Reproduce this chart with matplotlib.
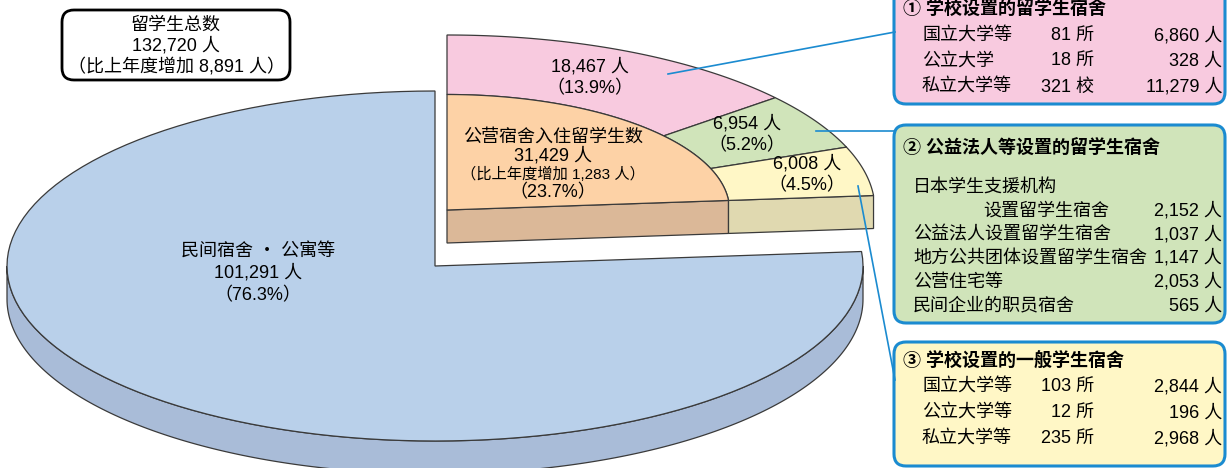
import numpy as np
import matplotlib.pyplot as plt
from matplotlib.patches import Polygon, FancyBboxPatch

plt.rcParams['font.family'] = ['Liberation Sans', 'Noto Sans CJK SC', 'DejaVu Sans']

# data: the two main parts and the three kinds of public dormitory
main_labels = ['民间宿舍 ・ 公寓等', '公营宿舍入住留学生数']
main_values = [101291, 31429]
public_increase = 1283
total_increase = 8891
sub_values = [18467, 6954, 6008]

# detail tables for the three boxes
school_names = ['国立大学等', '公立大学', '私立大学等']
school_counts = [81, 18, 321]
school_units = ['所', '所', '校']
school_people = [6860, 328, 11279]

found_names = ['设置留学生宿舍', '公益法人设置留学生宿舍', '地方公共团体设置留学生宿舍',
               '公营住宅等', '民间企业的职员宿舍']
found_people = [2152, 1037, 1147, 2053, 565]

general_names = ['国立大学等', '公立大学等', '私立大学等']
general_counts = [103, 12, 235]
general_people = [2844, 196, 2968]

# colours
c_blue, c_blue_side = '#b9d0ea', '#a9bcd8'
c_orange, c_orange_side = '#fdd2a6', '#dbb898'
sub_colors = ['#f8cadf', '#d0e4ba', '#fff7c6']
c_yellow_side = '#e0d9b0'
c_edge = '#3a3a3a'
c_line = '#1b8bd0'

# pie geometry (pixel space)
CX, CY = 435, 266
RX, RY = 428, 175
DEPTH = 33
EXPLODE = (12, -56)
R_IN = 0.66

total = sum(main_values)


def ell(theta_deg, r, cx, cy):
    t = np.radians(theta_deg)
    return np.column_stack([cx + r * RX * np.cos(t), cy - r * RY * np.sin(t)])


def sector(t0, t1, r0, r1, cx, cy):
    ts = np.linspace(t0, t1, 120)
    outer = ell(ts, r1, cx, cy)
    if r0 == 0:
        inner = np.array([[cx, cy]])
    else:
        inner = ell(ts[::-1], r0, cx, cy)
    return np.vstack([outer, inner])


fig = plt.figure(figsize=(12.27, 4.68), dpi=100)
ax = fig.add_axes([0, 0, 1, 1])
ax.set_xlim(0, 1227)
ax.set_ylim(468, 0)
ax.axis('off')

start = 90
cut = start - 360 * main_values[1] / total

# big slice: side then top
ts = np.linspace(-180, 0, 200)
top = ell(ts, 1, CX, CY)
side = np.vstack([top, (top + [0, DEPTH])[::-1]])
ax.add_patch(Polygon(side, closed=True, fc=c_blue_side, ec=c_edge, lw=0.9))
ax.add_patch(Polygon(sector(cut, start - 360, 0, 1, CX, CY), closed=True,
                     fc=c_blue, ec=c_edge, lw=0.9))

# exploded slice
wx, wy = CX + EXPLODE[0], CY + EXPLODE[1]
p0 = np.array([wx, wy])
p1 = ell(cut, R_IN, wx, wy)[0]
p2 = ell(cut, 1, wx, wy)[0]
d = np.array([0, DEPTH])
ax.add_patch(Polygon([p0, p1, p1 + d, p0 + d], closed=True, fc=c_orange_side, ec=c_edge, lw=0.9))
ax.add_patch(Polygon([p1, p2, p2 + d, p1 + d], closed=True, fc=c_yellow_side, ec=c_edge, lw=0.9))

span = start - cut
t = start
for v, col in zip(sub_values, sub_colors):
    t_next = t - span * v / main_values[1]
    ax.add_patch(Polygon(sector(t, t_next, R_IN, 1, wx, wy), closed=True,
                         fc=col, ec=c_edge, lw=0.9))
    t = t_next
ax.add_patch(Polygon(sector(start, cut, 0, R_IN, wx, wy), closed=True,
                     fc=c_orange, ec=c_edge, lw=0.9))

# slice labels
fs = 13
pct = [v / total * 100 for v in main_values]
ax.text(258, 251, main_labels[0], ha='center', va='center', fontsize=fs)
ax.text(258, 273, f'{main_values[0]:,} 人', ha='center', va='center', fontsize=fs)
ax.text(258, 296, f'（{pct[0]:.1f}%）', ha='center', va='center', fontsize=fs)

ax.text(553, 137, main_labels[1], ha='center', va='center', fontsize=fs)
ax.text(553, 156, f'{main_values[1]:,} 人', ha='center', va='center', fontsize=fs)
ax.text(553, 174, f'（比上年度增加 {public_increase:,} 人）', ha='center', va='center', fontsize=11)
ax.text(553, 193, f'（{pct[1]:.1f}%）', ha='center', va='center', fontsize=fs)

sub_pos = [(590, 67, 89), (747, 124, 146), (807, 164, 186)]
for v, (x, y1, y2) in zip(sub_values, sub_pos):
    ax.text(x, y1, f'{v:,} 人', ha='center', va='center', fontsize=fs)
    ax.text(x, y2, f'（{v / total * 100:.1f}%）', ha='center', va='center', fontsize=fs)

# total box
ax.add_patch(FancyBboxPatch((62, 10), 228, 70, boxstyle='round,pad=0,rounding_size=12',
                            fc='white', ec='black', lw=2))
ax.text(176, 25, '留学生总数', ha='center', va='center', fontsize=fs)
ax.text(176, 46, f'{total:,} 人', ha='center', va='center', fontsize=fs)
ax.text(176, 67, f'（比上年度增加 {total_increase:,} 人）', ha='center', va='center', fontsize=fs)

# connector lines
ax.plot([668, 895], [74, 32], color=c_line, lw=1.2)
ax.plot([816, 895], [131, 131], color=c_line, lw=1.2)
ax.plot([858, 895], [186, 380], color=c_line, lw=1.2)

# detail boxes
def box(y0, y1, col):
    ax.add_patch(FancyBboxPatch((894, y0), 331, y1 - y0, boxstyle='round,pad=0,rounding_size=12',
                                fc=col, ec=c_line, lw=2.2, clip_on=False))


box(-20, 104, sub_colors[0])
ax.text(903, 10, '① 学校设置的留学生宿舍', ha='left', va='center', fontsize=fs, fontweight='bold')
for i, y in enumerate([36, 61, 87]):
    ax.text(922, y, school_names[i], ha='left', va='center', fontsize=fs)
    ax.text(1094, y, f'{school_counts[i]} {school_units[i]}', ha='right', va='center', fontsize=fs)
    ax.text(1222, y, f'{school_people[i]:,} 人', ha='right', va='center', fontsize=fs)

box(125, 323, sub_colors[1])
ax.text(903, 149, '② 公益法人等设置的留学生宿舍', ha='left', va='center', fontsize=fs, fontweight='bold')
ax.text(913, 187, '日本学生支援机构', ha='left', va='center', fontsize=fs)
for i, y in enumerate([211, 235, 258, 282, 306]):
    x = 983 if i == 0 else 913
    ax.text(x, y, found_names[i], ha='left', va='center', fontsize=fs)
    ax.text(1222, y, f'{found_people[i]:,} 人', ha='right', va='center', fontsize=fs)

box(342, 466, sub_colors[2])
ax.text(903, 362, '③ 学校设置的一般学生宿舍', ha='left', va='center', fontsize=fs, fontweight='bold')
for i, y in enumerate([387, 413, 439]):
    ax.text(922, y, general_names[i], ha='left', va='center', fontsize=fs)
    ax.text(1094, y, f'{general_counts[i]} 所', ha='right', va='center', fontsize=fs)
    ax.text(1222, y, f'{general_people[i]:,} 人', ha='right', va='center', fontsize=fs)

fig.savefig('out.png', dpi=100)
